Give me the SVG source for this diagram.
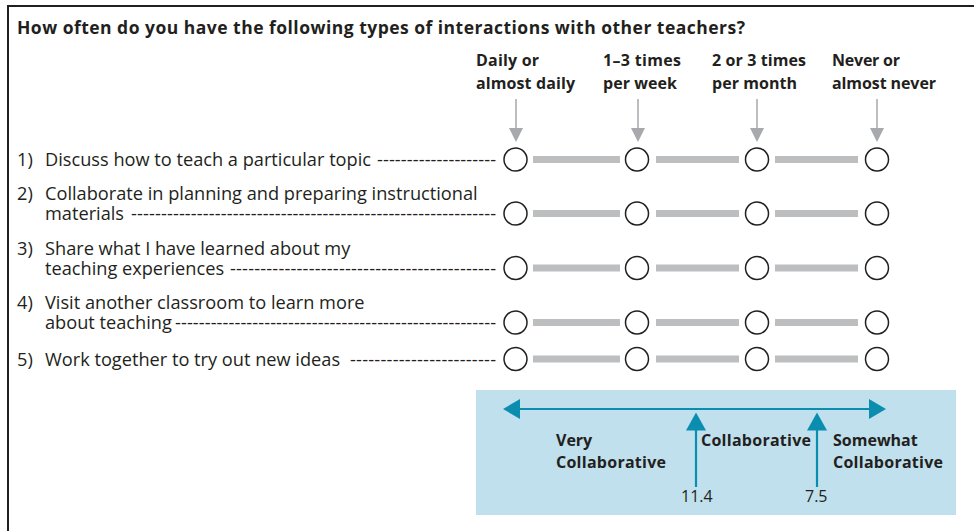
<svg xmlns="http://www.w3.org/2000/svg" width="974" height="531" viewBox="0 0 974 531">
<style>
.t{font-family:"Open Sans","Liberation Sans",sans-serif;fill:#231f20}
.r{font-size:18.2px}
.b{font-size:16px;font-weight:700}
.h{font-size:17.5px;font-weight:700}
.n{font-size:16px}
.c{fill:#fff;stroke:#231f20;stroke-width:1.5}
.bar{fill:#bcbec0}
.ga{stroke:#a7a9ac;stroke-width:1.5}
.gh{fill:#a7a9ac}
.tl{stroke:#0b8db0;stroke-width:2.2;fill:none}
.th{fill:#0b8db0}
</style>
<rect width="974" height="531" fill="#fff"/>
<path d="M8 531V6H974" fill="none" stroke="#231f20" stroke-width="2"/>
<text class="t h" x="17" y="34" textLength="728">How often do you have the following types of interactions with other teachers?</text>
<g id="headers">
<text class="t b" x="476" y="66" textLength="63">Daily or</text>
<text class="t b" x="476" y="89" textLength="99">almost daily</text>
<text class="t b" x="603" y="66" textLength="78">1–3 times</text>
<text class="t b" x="603" y="89" textLength="74">per week</text>
<text class="t b" x="712" y="66" textLength="94">2 or 3 times</text>
<text class="t b" x="712" y="89" textLength="85">per month</text>
<text class="t b" x="832" y="66" textLength="68">Never or</text>
<text class="t b" x="832" y="89" textLength="104">almost never</text>
</g>
<g id="header-arrows">
<line class="ga" x1="516" y1="99" x2="516" y2="130"/><path class="gh" d="M509 128H523L516 142Z"/>
<line class="ga" x1="638" y1="99" x2="638" y2="130"/><path class="gh" d="M631 128H645L638 142Z"/>
<line class="ga" x1="757" y1="99" x2="757" y2="130"/><path class="gh" d="M750 128H764L757 142Z"/>
<line class="ga" x1="877" y1="99" x2="877" y2="130"/><path class="gh" d="M870 128H884L877 142Z"/>
</g>
<defs>
<g id="scale">
<rect class="bar" x="533" y="-3.5" width="87" height="7"/>
<rect class="bar" x="656" y="-3.5" width="83" height="7"/>
<rect class="bar" x="775" y="-3.5" width="83" height="7"/>
<circle class="c" cx="515.5" cy="0" r="11.5"/>
<circle class="c" cx="637" cy="0" r="11.5"/>
<circle class="c" cx="757" cy="0" r="11.5"/>
<circle class="c" cx="877" cy="0" r="11.5"/>
</g>
</defs>
<g id="item1">
<text class="t r" x="17" y="166">1)</text>
<text class="t r" x="45" y="166">Discuss how to teach a particular topic</text>
<text class="t r" x="377" y="166" textLength="119">--------------------</text>
<use href="#scale" y="159.5"/>
</g>
<g id="item2">
<text class="t r" x="17" y="200">2)</text>
<text class="t r" x="45" y="200">Collaborate in planning and preparing instructional<tspan x="45" y="220">materials</tspan><tspan x="131" y="220" textLength="365">-------------------------------------------------------------</tspan></text>
<use href="#scale" y="213.5"/>
</g>
<g id="item3">
<text class="t r" x="17" y="255">3)</text>
<text class="t r" x="45" y="255">Share what I have learned about my<tspan x="45" y="275">teaching experiences</tspan><tspan x="230" y="275" textLength="266">--------------------------------------------</tspan></text>
<use href="#scale" y="268"/>
</g>
<g id="item4">
<text class="t r" x="17" y="309">4)</text>
<text class="t r" x="45" y="309">Visit another classroom to learn more<tspan x="45" y="329">about teaching</tspan><tspan x="175" y="329" textLength="321">------------------------------------------------------</tspan></text>
<use href="#scale" y="322.5"/>
</g>
<g id="item5">
<text class="t r" x="17" y="366">5)</text>
<text class="t r" x="45" y="366">Work together to try out new ideas</text>
<text class="t r" x="350" y="366" textLength="146">------------------------</text>
<use href="#scale" y="359"/>
</g>
<g id="legend">
<rect x="476" y="390" width="480" height="125" fill="#bfe0ec"/>
<g id="connectors">
<line class="tl" x1="516" y1="409" x2="872" y2="409"/>
<path class="th" d="M503 409L520 399V419Z"/>
<path class="th" d="M886 409L869 399V419Z"/>
<line class="tl" x1="696" y1="428" x2="696" y2="487"/>
<path class="th" d="M696 412.5L686 430.5H706Z"/>
<line class="tl" x1="817" y1="428" x2="817" y2="487"/>
<path class="th" d="M817 412.5L807 430.5H827Z"/>
</g>
<text class="t b" x="556" y="446">Very<tspan x="556" y="468" textLength="110">Collaborative</tspan></text>
<text class="t b" x="701" y="446" textLength="110">Collaborative</text>
<text class="t b" x="833" y="446">Somewhat<tspan x="833" y="468" textLength="110">Collaborative</tspan></text>
<text class="t n" x="681" y="502">11.4</text>
<text class="t n" x="805" y="502">7.5</text>
</g>
</svg>
